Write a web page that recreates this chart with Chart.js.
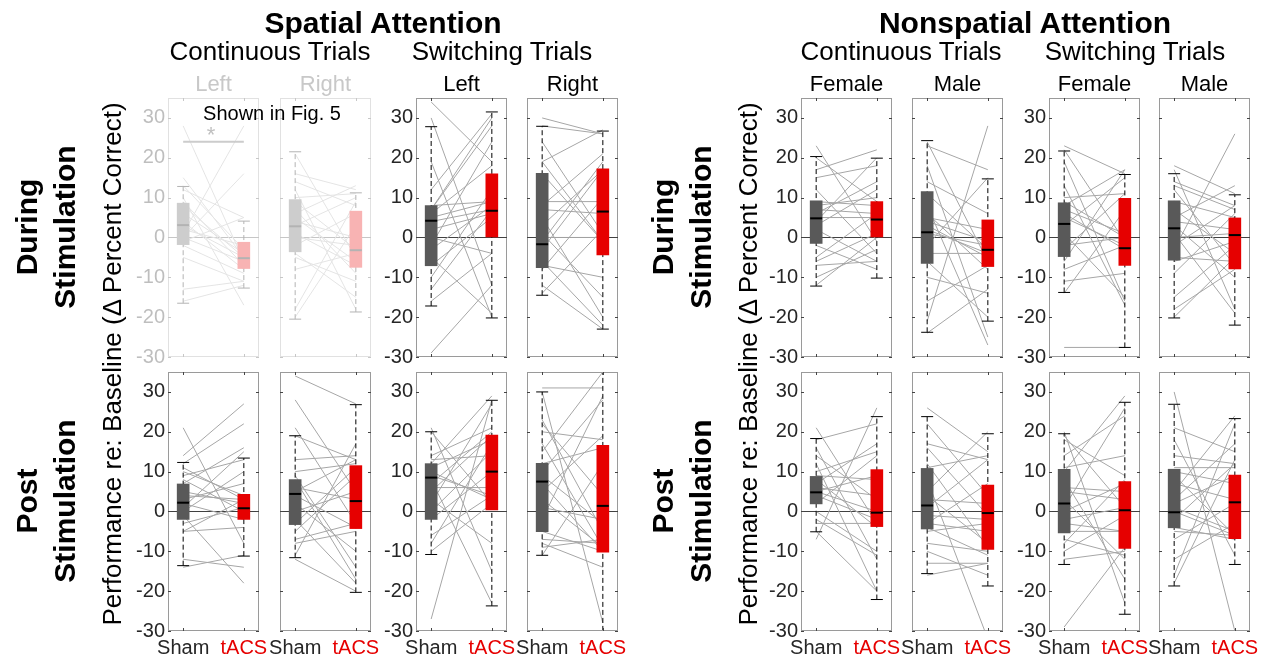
<!DOCTYPE html>
<html>
<head>
<meta charset="utf-8">
<script src="https://cdn.jsdelivr.net/npm/chart.js@4.4.1/dist/chart.umd.min.js"></script>
<style>
  body { margin: 0; background: #fff; width: 1265px; height: 661px; overflow: hidden; position: relative; }
  canvas { position: absolute; }
  svg { position: absolute; left: 0; top: 0; z-index: 2; font-family: "Liberation Sans", Arial, sans-serif; }
</style>
</head>
<body>
<svg id="labels" width="1265" height="661"></svg>
<script>
// ---- data ----
const groupTitles = ['Spatial Attention', 'Nonspatial Attention'];
const trialTitles = ['Continuous Trials', 'Switching Trials', 'Continuous Trials', 'Switching Trials'];
const columnLabels = ['Left', 'Right', 'Left', 'Right', 'Female', 'Male', 'Female', 'Male'];
const rowLabels = [['During', 'Stimulation'], ['Post', 'Stimulation']];
const yTitle = 'Performance re: Baseline (\u0394 Percent Correct)';
const conditions = ['Sham', 'tACS'];
const yTicks = [-30, -20, -10, 0, 10, 20, 30];

// box stats: [lower whisker, q1, median, q3, upper whisker]
const shamDuring = [
  [-16.5, -1.8, 3.1, 8.6, 12.8],
  [-20.5, -3.6, 2.8, 9.5, 21.5],
  [-17.2, -7.1, 4.2, 8.0, 27.8],
  [-14.5, -7.6, -1.7, 16.1, 27.9],
  [-12.2, -1.5, 4.8, 9.2, 20.3],
  [-23.8, -6.5, 1.3, 11.5, 24.3],
  [-13.8, -4.8, 3.4, 8.7, 21.7],
  [-20.2, -5.7, 2.3, 9.2, 16.0]
];
const tacsDuring = [
  [-12.7, -7.8, -5.2, -1.2, 4.1],
  [-18.7, -7.5, -3.2, 6.6, 11.2],
  [-20.2, 0.0, 6.7, 16.0, 31.5],
  [-23.0, -4.4, 6.5, 17.2, 26.7],
  [-10.2, 0.0, 4.5, 9.0, 19.9],
  [-21.0, -7.3, -3.1, 4.4, 14.7],
  [-27.6, -7.0, -2.7, 9.8, 15.8],
  [-22.0, -7.9, 0.6, 4.9, 10.7]
];
const shamPost = [
  [-13.6, -2.0, 2.2, 6.9, 12.3],
  [-11.6, -3.3, 4.4, 8.0, 19.0],
  [-10.8, -2.0, 8.5, 12.0, 20.0],
  [-11.0, -5.1, 7.5, 12.1, 30.0],
  [-5.1, 1.9, 4.8, 8.8, 18.3],
  [-15.6, -4.4, 1.5, 10.8, 23.8],
  [-13.3, -5.4, 2.0, 10.6, 19.5],
  [-18.7, -4.1, -0.2, 10.6, 26.9]
];
const tacsPost = [
  [-11.2, -2.0, 0.8, 4.3, 13.4],
  [-20.3, -4.3, 2.6, 11.5, 26.8],
  [-23.7, 0.4, 10.0, 19.2, 27.9],
  [-36.0, -10.2, 1.4, 16.6, 40.0],
  [-22.1, -3.8, -0.3, 10.5, 23.8],
  [-18.7, -9.5, -0.4, 6.6, 19.5],
  [-25.8, -9.3, 0.3, 7.5, 27.4],
  [-13.3, -6.8, 2.3, 9.1, 23.3]
];

// individual subjects: [sham, tACS]
const pairsDuring = [
  [[28,-6],[15,-5],[13,-3],[12,5],[9,-7],[6,-4],[4,-8],[3,-5],[1,28],[0,16],[0,-6],[-1,5],[-2,-9],[-5,-11],[-13,-11],[-16,-12],[10,-17],[2,-2],[8,-5]],
  [[21,-5],[16,12],[14,8],[12,-18],[10,11],[9,-3],[6,13],[5,-6],[3,10],[1,-7],[0,-2],[-2,6],[-4,-15],[-5,-11],[-8,-4],[-18,9],[-20,3],[7,-9],[4,0]],
  [[34,19],[30,-12],[19,-20],[12,31],[8,9],[7,30],[7,28],[6,18],[5,9],[4,7],[2,6],[0,-4],[-2,24],[-3,8],[-5,-19],[-7,5],[-10,12],[-13,7],[-16,-4],[-29,-12]],
  [[30,26],[28,26],[24,1],[19,27],[16,-1],[9,9],[8,21],[7,6],[5,-20],[1,-15],[0,0],[-1,19],[-3,17],[-6,-22],[-7,-10],[-8,10],[-12,-23],[-14,2],[19,-1],[3,17]],
  [[23,-1],[20,9],[17,22],[15,18],[12,-4],[9,8],[8,10],[7,6],[5,5],[4,20],[3,12],[2,-6],[-2,-8],[-5,6],[-6,1],[-10,-3],[-12,0],[-7,-6],[6,14]],
  [[24,-6],[23,17],[18,-25],[14,6],[11,-3],[8,-27],[5,2],[4,-1],[3,-5],[2,-4],[1,-2],[-2,15],[-4,-4],[-6,-20],[-10,-14],[-16,-7],[-21,28],[-24,-13],[6,-8]],
  [[23,16],[22,-1],[19,-16],[13,-17],[10,11],[9,0],[8,17],[7,1],[6,-3],[5,-2],[3,15],[1,-15],[-2,0],[-3,11],[-6,17],[-8,-2],[-11,-9],[-14,7],[-27.6,-27.6]],
  [[18,11],[17,-18],[14,8],[13,7],[12,-7],[9,5],[7,-4],[5,13],[4,2],[3,-10],[1,-19],[0,1],[-2,8],[-3,26],[-5,-6],[-6,-1],[-9,6],[-15,-2],[-18,-8],[-20,-5]]
];
const pairsPost = [
  [[21,-8],[14,27],[12,22],[11,3],[10,4],[9,13],[7,16],[5,2],[4,3],[3,7],[2,-2],[1,15],[0,10],[-1,-18],[-3,1],[-5,-4],[-5,3],[-12,-14],[-14,-11],[8,0]],
  [[34,27],[28,5],[21,-3],[19,13],[13,14],[10,12],[9,-14],[8,-17],[6,3],[5,13],[4,-4],[2,-10],[0,5],[-2,-18],[-3,11],[-5,9],[-7,-3],[-8,-5],[-11,17],[-12,-20]],
  [[21,-15],[20,2],[14,21],[13,14],[12,29],[11,18],[10,3],[9,4],[8,-23],[7,20],[6,6],[5,19],[3,-8],[2,27],[0,15],[-2,10],[-6,4],[-8,17],[-10,2],[-27,28]],
  [[31,31],[30,-28],[23,-5],[20,18],[17,-9],[15,35],[12,16],[10,28],[9,-3],[7,-10],[5,19],[3,-9],[1,-2],[-2,29],[-5,-10],[-7,-8],[-8,-14],[-9,-7],[-11,12],[22,4]],
  [[21,-3],[18,22],[16,-12],[14,3],[12,-20],[10,15],[9,8],[8,-4],[7,17],[6,4],[5,9],[5,0],[4,-2],[2,14],[0,-10],[-2,-11],[-5,-20],[-7,26],[-3,-3]],
  [[26,15],[22,4],[17,13],[16,-1],[12,-9],[11,14],[8,-32],[5,20],[4,-8],[3,2],[1,13],[-1,-2],[-3,7],[-4,-11],[-5,-3],[-8,-10],[-10,-16],[-13,-13],[-16,-13],[-3,-5]],
  [[20,-23],[19,1],[18,9],[14,24],[11,14],[10,29],[8,-17],[6,5],[5,3],[3,-12],[1,26],[0,7],[-2,1],[-3,-5],[-5,-5],[-7,-11],[-8,8],[-10,-1],[-12,-10],[-29,-9]],
  [[30,-30],[21,15],[18,-11],[14,12],[11,11],[10,7],[9,-6],[7,3],[5,24],[3,17],[2,9],[1,-5],[0,-6],[-2,12],[-4,-7],[-5,-6],[-7,2],[-12,-3],[-16,22],[-18,13]]
];

// extras on the faded "Shown in Fig. 5" panel
const fig5Means = [-0.8, -6.1];
const fig5SigLevel = 24;

// ---- layout ----
const colLeft = [168, 280, 416, 527, 801, 912, 1049, 1159];
const rowTop = [98, 372];
const panelW = 91, panelH = 259;
const fontFam = '"Liberation Sans", Arial, sans-serif';
const tickColor = '#262626';
const shamColor = '#595959';
const tacsColor = '#e60000';

const framePlugin = {
  id: 'frame',
  afterDatasetsDraw(chart) {
    const { ctx, chartArea: a, scales } = chart;
    ctx.save();
    ctx.lineWidth = 1;
    ctx.strokeStyle = '#9a9a9a';
    ctx.strokeRect(a.left + 0.5, a.top + 0.5, a.width - 1, a.height - 1);
    ctx.strokeStyle = '#444';
    ctx.beginPath();
    yTicks.forEach(v => {
      const y = Math.round(scales.y.getPixelForValue(v)) + 0.5;
      ctx.moveTo(a.left, y); ctx.lineTo(a.left + 3, y);
      ctx.moveTo(a.right, y); ctx.lineTo(a.right - 3, y);
    });
    [1, 2].forEach(v => {
      const x = Math.round(scales.x.getPixelForValue(v)) + 0.5;
      ctx.moveTo(x, a.bottom); ctx.lineTo(x, a.bottom - 3);
      ctx.moveTo(x, a.top); ctx.lineTo(x, a.top + 3);
    });
    ctx.stroke();
    ctx.restore();
  }
};

function makePanel(row, col) {
  const sham = row === 0 ? shamDuring[col] : shamPost[col];
  const tacs = row === 0 ? tacsDuring[col] : tacsPost[col];
  const pairs = row === 0 ? pairsDuring[col] : pairsPost[col];
  const showY = col % 2 === 0;

  const axisW = 60, padTop = 20, padRight = 16;
  const padBottom = row === 0 ? 20 : 4;
  const xAxisH = row === 0 ? 0 : 30;
  const W = axisW + panelW + padRight;
  const H = padTop + panelH + xAxisH + padBottom;

  const canvas = document.createElement('canvas');
  canvas.width = W; canvas.height = H;
  canvas.style.left = (colLeft[col] - axisW) + 'px';
  canvas.style.top = (rowTop[row] - padTop) + 'px';
  canvas.style.width = W + 'px';
  canvas.style.height = H + 'px';
  if (row === 0 && col < 2) canvas.style.opacity = 0.3;
  document.body.appendChild(canvas);

  const datasets = [];
  datasets.push({
    type: 'scatter', order: 0,
    data: [{ x: 1, y: sham[2] }, { x: 2, y: tacs[2] }],
    pointStyle: 'line', pointRadius: 6, pointBorderColor: '#000', pointBorderWidth: 2
  });
  datasets.push({
    type: 'bar', order: 1,
    data: [{ x: 1, y: [sham[1], sham[3]] }, { x: 2, y: [tacs[1], tacs[3]] }],
    backgroundColor: [shamColor, tacsColor], borderWidth: 0, barThickness: 12
  });
  datasets.push({
    type: 'scatter', order: 2,
    data: [{ x: 1, y: sham[0] }, { x: 1, y: sham[4] }, { x: 2, y: tacs[0] }, { x: 2, y: tacs[4] }],
    pointStyle: 'line', pointRadius: 6, pointBorderColor: '#000', pointBorderWidth: 1
  });
  [[1, sham], [2, tacs]].forEach(([x, s]) => {
    datasets.push({
      type: 'line', order: 3,
      data: [{ x: x, y: s[0] }, { x: x, y: s[4] }],
      borderColor: '#000', borderWidth: 1, borderDash: [5, 3], pointRadius: 0
    });
  });
  if (row === 0 && col === 0) {
    datasets.push({
      type: 'scatter', order: 0,
      data: [{ x: 1, y: fig5Means[0] }, { x: 2, y: fig5Means[1] }],
      pointRadius: 3.5, pointBackgroundColor: [shamColor, tacsColor], pointBorderWidth: 0
    });
    datasets.push({
      type: 'line', order: 3,
      data: [{ x: 1, y: fig5SigLevel }, { x: 2, y: fig5SigLevel }],
      borderColor: '#555', borderWidth: 2, pointRadius: 0
    });
  }
  pairs.forEach(p => {
    datasets.push({
      type: 'line', order: 4,
      data: [{ x: 1, y: p[0] }, { x: 2, y: p[1] }],
      borderColor: '#a6a6a6', borderWidth: 1, pointRadius: 0
    });
  });

  new Chart(canvas, {
    type: 'scatter',
    data: { datasets },
    options: {
      responsive: false,
      animation: false,
      events: [],
      layout: { padding: { top: padTop, right: padRight, bottom: padBottom, left: 0 } },
      plugins: { legend: { display: false }, tooltip: { enabled: false } },
      scales: {
        x: {
          type: 'linear', min: 0.75, max: 2.25, offset: false,
          display: row === 1,
          afterBuildTicks: s => { s.ticks = [{ value: 1 }, { value: 2 }]; },
          afterFit: s => { s.height = xAxisH; },
          grid: { display: false, drawTicks: false },
          border: { display: false },
          ticks: {
            autoSkip: false, maxRotation: 0, minRotation: 0, padding: 5,
            font: { size: 20, family: fontFam },
            color: c => (c.tick && c.tick.value === 2) ? tacsColor : tickColor,
            callback: v => v === 1 ? conditions[0] : conditions[1]
          }
        },
        y: {
          type: 'linear', min: -30, max: 35,
          afterBuildTicks: s => { s.ticks = yTicks.map(v => ({ value: v })); },
          afterFit: s => { s.width = axisW; },
          grid: {
            drawTicks: false, lineWidth: 1,
            color: c => (c.tick && c.tick.value === 0) ? '#404040' : 'rgba(0,0,0,0)'
          },
          border: { display: false },
          ticks: {
            display: showY, padding: 3,
            font: { size: 20, family: fontFam }, color: tickColor
          }
        }
      }
    },
    plugins: [framePlugin]
  });
}

for (let r = 0; r < 2; r++) {
  for (let c = 0; c < 8; c++) makePanel(r, c);
}

// ---- text ----
const svg = document.getElementById('labels');
function addText(str, x, y, size, opts) {
  opts = opts || {};
  const t = document.createElementNS('http://www.w3.org/2000/svg', 'text');
  t.textContent = str;
  t.setAttribute('text-anchor', 'middle');
  t.setAttribute('font-size', size);
  t.setAttribute('fill', opts.fill || '#000');
  if (opts.bold) t.setAttribute('font-weight', 'bold');
  if (opts.rotate) t.setAttribute('transform', `translate(${x},${y}) rotate(-90)`);
  else { t.setAttribute('x', x); t.setAttribute('y', y); }
  svg.appendChild(t);
}

addText(groupTitles[0], 383, 33, 30, { bold: true });
addText(groupTitles[1], 1025, 33, 30, { bold: true });
[270, 502, 901, 1135].forEach((x, i) => addText(trialTitles[i], x, 60, 26));
columnLabels.forEach((lab, i) => {
  addText(lab, colLeft[i] + panelW / 2, 91, 22, { fill: i < 2 ? '#c8c8c8' : '#000' });
});

[0, 636].forEach(dx => {
  addText(rowLabels[0][0], 37 + dx, 227, 30, { bold: true, rotate: true });
  addText(rowLabels[0][1], 75 + dx, 227, 30, { bold: true, rotate: true });
  addText(rowLabels[1][0], 37 + dx, 501, 30, { bold: true, rotate: true });
  addText(rowLabels[1][1], 75 + dx, 501, 30, { bold: true, rotate: true });
  addText(yTitle, 121 + dx, 364, 26, { rotate: true });
});

addText('Shown in Fig. 5', 272, 120, 20);
addText('*', 211, 142, 22, { fill: '#c0c0c0' });
</script>
</body>
</html>
